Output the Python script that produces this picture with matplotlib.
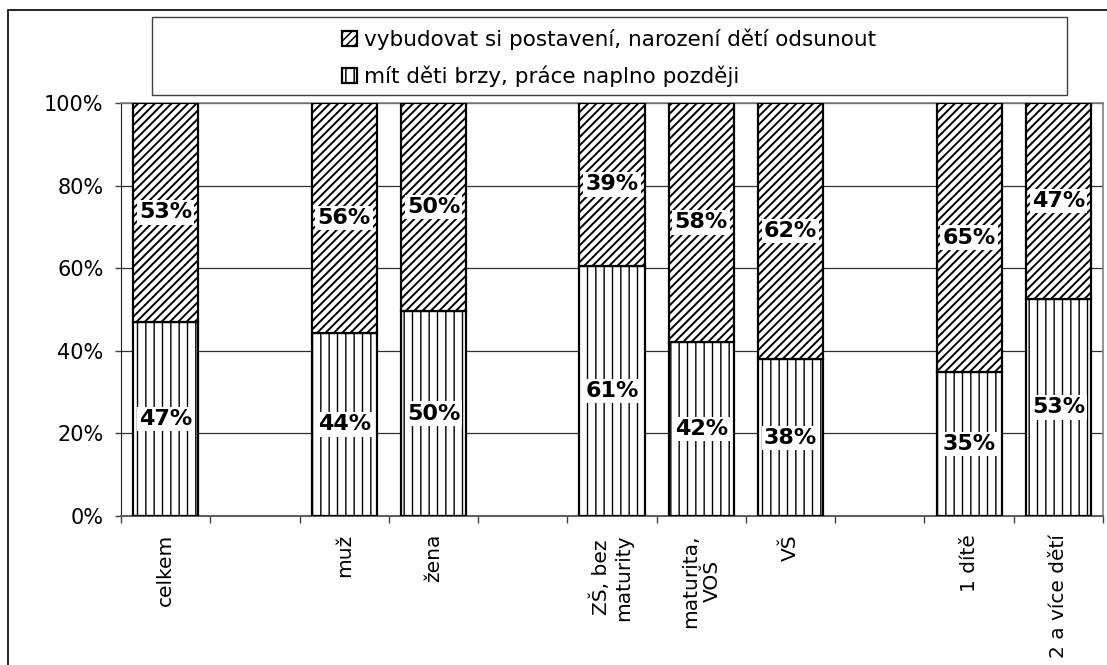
import numpy as np
import matplotlib
matplotlib.use('Agg')
import matplotlib.pyplot as plt
from matplotlib.patches import Rectangle

categories = ['celkem', '', 'muž', 'žena', '', 'ZŠ, bez\nmaturity', 'maturita,\nVOŠ',
              'VŠ', '', '1 dítě', '2 a více dětí']
# share "mít děti brzy, práce naplno později" (%), nan = empty slot
early = [47.0, np.nan, 44.4, 49.6, np.nan, 60.6, 42.2, 37.9, np.nan, 34.8, 52.6]
late = [100 - v for v in early]
series_names = ['vybudovat si postavení, narození dětí odsunout',
                'mít děti brzy, práce naplno později']

plt.rcParams['font.family'] = 'DejaVu Sans'
plt.rcParams['hatch.linewidth'] = 1.1

W, H = 1107, 665
fig = plt.figure(figsize=(W / 100, H / 100), dpi=100)
fig.patch.set_facecolor('white')
ax = fig.add_axes([121 / W, 1 - 516 / H, 982 / W, 413 / H])

# outer chart border (cropped at right/bottom in the reference)
fig.patches.append(Rectangle((8 / W, -0.1), 1.2, 655 / H + 0.1, transform=fig.transFigure,
                             fill=False, edgecolor='black', linewidth=1.2))

x = np.arange(len(categories))
bar_width = 0.73
b1 = ax.bar(x, early, width=bar_width, color='white', edgecolor='black',
            linewidth=1.6, hatch='||', label=series_names[1], zorder=3)
b2 = ax.bar(x, late, bottom=early, width=bar_width, color='white', edgecolor='black',
            linewidth=1.6, hatch='////', label=series_names[0], zorder=3)

for p in b1:
    if hasattr(p, 'set_hatch_linewidth'):
        p.set_hatch_linewidth(1.0)
for p in b2:
    if hasattr(p, 'set_hatch_linewidth'):
        p.set_hatch_linewidth(1.4)

lbl_box = dict(boxstyle='square,pad=0.1', facecolor='white', edgecolor='none')
for xi, lo, hi in zip(x, early, late):
    if np.isnan(lo):
        continue
    ax.text(xi, lo / 2, f'{round(lo)}%', ha='center', va='center', fontsize=16,
            fontweight='bold', bbox=lbl_box, zorder=5)
    ax.text(xi, lo + hi / 2, f'{round(hi)}%', ha='center', va='center', fontsize=16,
            fontweight='bold', bbox=lbl_box, zorder=5)

ax.set_xlim(-0.5, len(categories) - 0.5)
ax.set_ylim(0, 100)
ax.set_yticks([0, 20, 40, 60, 80, 100])
ax.set_yticklabels([f'{v}%' for v in [0, 20, 40, 60, 80, 100]], fontsize=15)
ax.yaxis.grid(True, color='#303030', linewidth=0.9)
ax.set_axisbelow(True)

ax.set_xticks(x)
ax.set_xticklabels(categories, rotation=90, fontsize=14.5, va='top', ha='center')
ax.set_xticks(np.arange(len(categories) + 1) - 0.5, minor=True)
ax.tick_params(axis='x', which='major', length=0, pad=13)
ax.tick_params(axis='x', which='minor', length=5, width=1.0, color='#404040')
ax.tick_params(axis='y', length=4.5, width=1.0, pad=8, color='#404040')

for side in ['top', 'right']:
    ax.spines[side].set_color('#808080')
    ax.spines[side].set_linewidth(1.2)
ax.spines['left'].set_color('#202020')
ax.spines['bottom'].set_color('#606060')
ax.spines['bottom'].set_linewidth(1.5)

# legend box
fig.patches.append(Rectangle((152 / W, 1 - 95 / H), 915 / W, 78 / H, transform=fig.transFigure,
                             fill=False, edgecolor='#404040', linewidth=1.0))
fig.legend([b2, b1], series_names, loc='center', bbox_to_anchor=(609 / W, 1 - 58 / H),
           frameon=False, fontsize=15.5, handlelength=0.7, handleheight=0.7,
           handletextpad=0.3, labelspacing=0.72, borderpad=0)

fig.savefig('out.png', dpi=100)
